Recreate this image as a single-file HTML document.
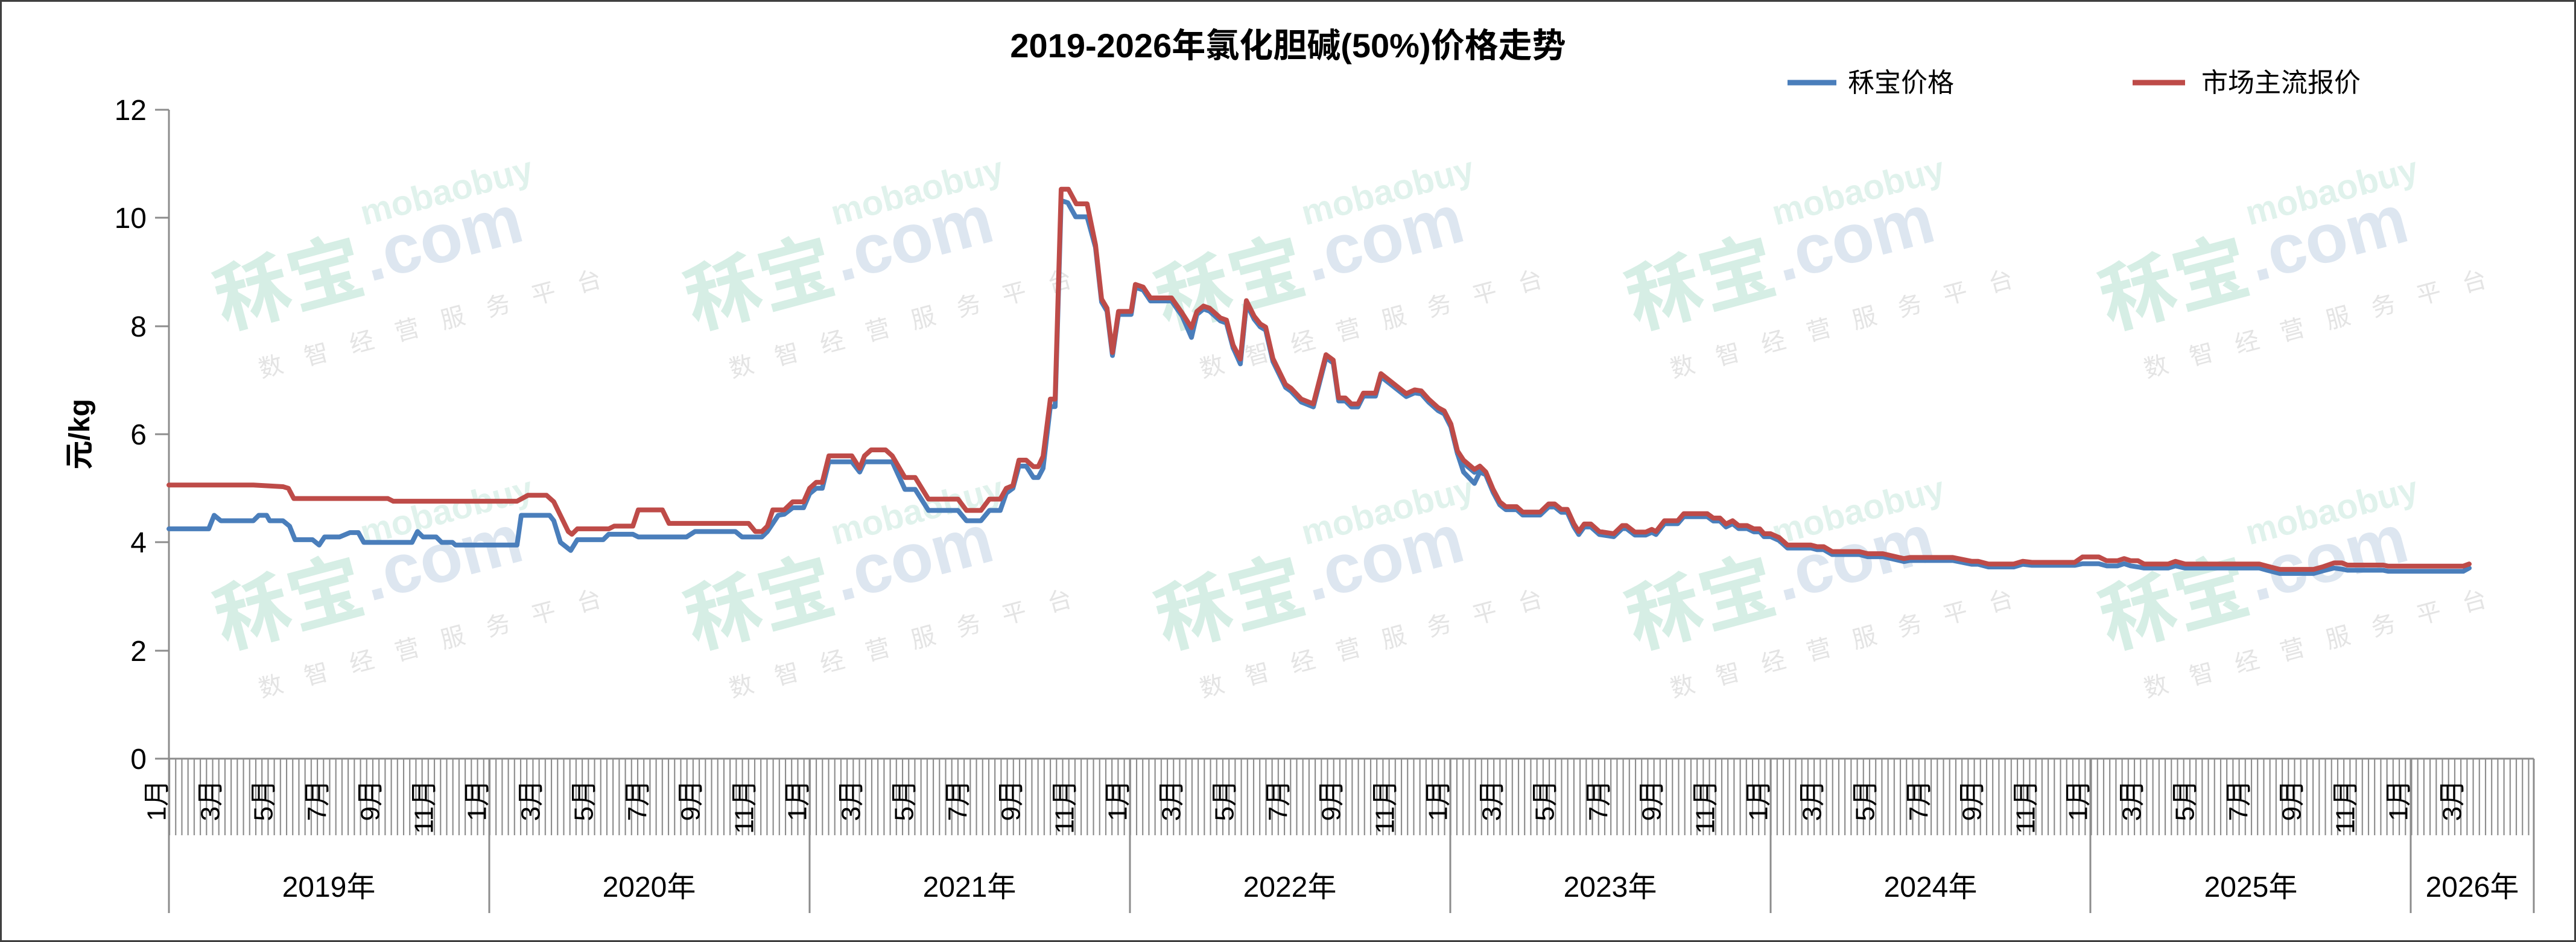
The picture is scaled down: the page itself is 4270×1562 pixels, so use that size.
<!DOCTYPE html>
<html><head><meta charset="utf-8">
<style>
html,body{margin:0;padding:0;background:#fff;}
svg{display:block;}
text{font-family:"Liberation Sans","Noto Sans CJK SC",sans-serif;}
</style></head>
<body>
<svg width="4270" height="1562" viewBox="0 0 4270 1562" xmlns="http://www.w3.org/2000/svg">
<defs>
<pattern id="wk" patternUnits="userSpaceOnUse" x="280" y="0" width="10.21" height="200">
<line x1="1" y1="0" x2="1" y2="200" stroke="#8a8a8a" stroke-width="2.2"/>
</pattern>
<g id="wm">
<text x="0" y="0" font-size="125" font-weight="bold" fill="#d6eee5">秝宝</text>
<text x="255" y="-12" font-size="115" font-weight="bold" fill="#dde6f0">.com</text>
<text x="270" y="-105" font-size="58" font-weight="bold" fill="#e0f2ec">mobaobuy</text>
<text x="40" y="95" font-size="40" fill="#e4e4e4" letter-spacing="38">数智经营服务平台</text>
</g>
</defs>
<rect x="1.5" y="1.5" width="4267" height="1559" fill="#fff" stroke="#404040" stroke-width="3"/>

<g transform="translate(370,545) rotate(-15)"><use href="#wm"/></g>
<g transform="translate(1150,545) rotate(-15)"><use href="#wm"/></g>
<g transform="translate(1930,545) rotate(-15)"><use href="#wm"/></g>
<g transform="translate(2710,545) rotate(-15)"><use href="#wm"/></g>
<g transform="translate(3495,545) rotate(-15)"><use href="#wm"/></g>
<g transform="translate(370,1075) rotate(-15)"><use href="#wm"/></g>
<g transform="translate(1150,1075) rotate(-15)"><use href="#wm"/></g>
<g transform="translate(1930,1075) rotate(-15)"><use href="#wm"/></g>
<g transform="translate(2710,1075) rotate(-15)"><use href="#wm"/></g>
<g transform="translate(3495,1075) rotate(-15)"><use href="#wm"/></g>

<text x="2135" y="95" font-size="56" font-weight="bold" text-anchor="middle" fill="#000">2019-2026年氯化胆碱(50%)价格走势</text>
<line x1="2963" y1="137" x2="3044" y2="137" stroke="#4a7ebb" stroke-width="9"/>
<text x="3063" y="152" font-size="44" fill="#000">秝宝价格</text>
<line x1="3535" y1="137" x2="3622" y2="137" stroke="#be4b48" stroke-width="9"/>
<text x="3649" y="152" font-size="44" fill="#000">市场主流报价</text>

<line x1="280" y1="182" x2="280" y2="1514" stroke="#8c8c8c" stroke-width="3"/>
<g stroke="#8c8c8c" stroke-width="3">
<line x1="257" y1="182" x2="280" y2="182"/><line x1="257" y1="361" x2="280" y2="361"/>
<line x1="257" y1="541" x2="280" y2="541"/><line x1="257" y1="720" x2="280" y2="720"/>
<line x1="257" y1="899" x2="280" y2="899"/><line x1="257" y1="1079" x2="280" y2="1079"/>
<line x1="257" y1="1258" x2="280" y2="1258"/>
</g>
<g font-size="48" text-anchor="end" fill="#000">
<text x="243" y="199">12</text><text x="243" y="378">10</text><text x="243" y="558">8</text>
<text x="243" y="737">6</text><text x="243" y="916">4</text><text x="243" y="1096">2</text><text x="243" y="1275">0</text>
</g>
<text transform="translate(148,720) rotate(-90)" font-size="48" font-weight="bold" text-anchor="middle" fill="#000">元/kg</text>

<rect x="280" y="1258" width="3920" height="127" fill="url(#wk)"/>
<line x1="280" y1="1258" x2="4200" y2="1258" stroke="#8c8c8c" stroke-width="3"/>
<g stroke="#8c8c8c" stroke-width="3">
<line x1="811" y1="1258" x2="811" y2="1514"/><line x1="1342" y1="1258" x2="1342" y2="1514"/>
<line x1="1873" y1="1258" x2="1873" y2="1514"/><line x1="2404" y1="1258" x2="2404" y2="1514"/>
<line x1="2935" y1="1258" x2="2935" y2="1514"/><line x1="3465" y1="1258" x2="3465" y2="1514"/>
<line x1="3996" y1="1258" x2="3996" y2="1514"/><line x1="4200" y1="1258" x2="4200" y2="1514"/>
</g>
<g font-size="44" fill="#000" text-anchor="end" dominant-baseline="central">
<text transform="translate(260,1293) rotate(-90)">1月</text><text transform="translate(349,1293) rotate(-90)">3月</text><text transform="translate(437,1293) rotate(-90)">5月</text><text transform="translate(526,1293) rotate(-90)">7月</text><text transform="translate(614,1293) rotate(-90)">9月</text><text transform="translate(703,1293) rotate(-90)">11月</text>
<text transform="translate(791,1293) rotate(-90)">1月</text><text transform="translate(880,1293) rotate(-90)">3月</text><text transform="translate(968,1293) rotate(-90)">5月</text><text transform="translate(1057,1293) rotate(-90)">7月</text><text transform="translate(1145,1293) rotate(-90)">9月</text><text transform="translate(1234,1293) rotate(-90)">11月</text>
<text transform="translate(1322,1293) rotate(-90)">1月</text><text transform="translate(1411,1293) rotate(-90)">3月</text><text transform="translate(1499,1293) rotate(-90)">5月</text><text transform="translate(1588,1293) rotate(-90)">7月</text><text transform="translate(1676,1293) rotate(-90)">9月</text><text transform="translate(1765,1293) rotate(-90)">11月</text>
<text transform="translate(1853,1293) rotate(-90)">1月</text><text transform="translate(1942,1293) rotate(-90)">3月</text><text transform="translate(2030,1293) rotate(-90)">5月</text><text transform="translate(2119,1293) rotate(-90)">7月</text><text transform="translate(2207,1293) rotate(-90)">9月</text><text transform="translate(2296,1293) rotate(-90)">11月</text>
<text transform="translate(2384,1293) rotate(-90)">1月</text><text transform="translate(2473,1293) rotate(-90)">3月</text><text transform="translate(2561,1293) rotate(-90)">5月</text><text transform="translate(2650,1293) rotate(-90)">7月</text><text transform="translate(2738,1293) rotate(-90)">9月</text><text transform="translate(2827,1293) rotate(-90)">11月</text>
<text transform="translate(2915,1293) rotate(-90)">1月</text><text transform="translate(3004,1293) rotate(-90)">3月</text><text transform="translate(3092,1293) rotate(-90)">5月</text><text transform="translate(3181,1293) rotate(-90)">7月</text><text transform="translate(3269,1293) rotate(-90)">9月</text><text transform="translate(3358,1293) rotate(-90)">11月</text>
<text transform="translate(3445,1293) rotate(-90)">1月</text><text transform="translate(3534,1293) rotate(-90)">3月</text><text transform="translate(3622,1293) rotate(-90)">5月</text><text transform="translate(3711,1293) rotate(-90)">7月</text><text transform="translate(3799,1293) rotate(-90)">9月</text><text transform="translate(3888,1293) rotate(-90)">11月</text>
<text transform="translate(3976,1293) rotate(-90)">1月</text><text transform="translate(4065,1293) rotate(-90)">3月</text>
</g>
<g font-size="48" fill="#000" text-anchor="middle">
<text x="545" y="1487">2019年</text><text x="1076" y="1487">2020年</text><text x="1607" y="1487">2021年</text>
<text x="2138" y="1487">2022年</text><text x="2669" y="1487">2023年</text><text x="3200" y="1487">2024年</text>
<text x="3731" y="1487">2025年</text><text x="4098" y="1487">2026年</text>
</g>

<g transform="translate(0 1258) scale(1 -89.67)" fill="none" stroke-linejoin="round" stroke-linecap="round">
<polyline vector-effect="non-scaling-stroke" stroke="#4a7ebb" stroke-width="8" points="280,4.25 346,4.25 355,4.5 366,4.4 420,4.4 429,4.5 442,4.5 447,4.4 469,4.4 480,4.3 489,4.05 518,4.05 529,3.95 538,4.1 563,4.1 580,4.18 594,4.18 603,4.0 683,4.0 692,4.2 701,4.1 723,4.1 732,4.0 750,4.0 755,3.95 857,3.95 864,4.5 911,4.5 918,4.4 929,4.0 946,3.85 957,4.05 1000,4.05 1009,4.15 1049,4.15 1058,4.1 1138,4.1 1152,4.2 1219,4.2 1230,4.1 1263,4.1 1272,4.2 1290,4.5 1300,4.52 1314,4.64 1332,4.64 1342,4.9 1353,5.0 1363,5.0 1374,5.49 1412,5.49 1425,5.3 1433,5.49 1479,5.49 1500,4.98 1517,4.98 1539,4.59 1588,4.59 1602,4.4 1626,4.4 1640,4.59 1658,4.59 1668,4.91 1679,5.0 1689,5.41 1701,5.41 1713,5.2 1721,5.2 1729,5.37 1741,6.51 1749,6.51 1759,10.32 1770,10.28 1783,10.02 1802,10.02 1816,9.45"/>
<polyline vector-effect="non-scaling-stroke" stroke="#4a7ebb" stroke-width="8" points="1942,8.47 1959,8.2 1975,7.79 1984,8.22"/>
<polyline vector-effect="non-scaling-stroke" stroke="#4a7ebb" stroke-width="8" points="2044,7.6 2056,7.3 2066,8.4"/>
<polyline vector-effect="non-scaling-stroke" stroke="#4a7ebb" stroke-width="8" points="2405,6.14 2416,5.64 2426,5.3 2444,5.09 2453,5.3 2463,5.25 2475,4.93"/>
<g transform="translate(0 -0.055)">
<polyline vector-effect="non-scaling-stroke" stroke="#4a7ebb" stroke-width="8" points="1816,9.5 1826,8.5 1835,8.33 1844,7.51 1854,8.27 1875,8.27 1882,8.77 1895,8.72 1907,8.52 1942,8.52 1959,8.25 1975,7.97 1984,8.27 1995,8.37 2005,8.33 2023,8.15 2033,8.11 2044,7.65 2056,7.39 2066,8.47 2079,8.18 2089,8.04 2098,7.98 2110,7.4 2131,6.92 2140,6.85 2157,6.65 2177,6.56 2198,7.47 2210,7.37 2219,6.67 2230,6.67 2240,6.56 2251,6.56 2260,6.76 2280,6.76 2289,7.12 2331,6.75 2345,6.82 2356,6.8 2368,6.65 2384,6.49 2394,6.43 2405,6.19 2416,5.69 2426,5.52 2444,5.35 2453,5.41 2463,5.3 2475,4.98 2486,4.75 2496,4.66 2514,4.66 2524,4.56 2553,4.56 2567,4.71 2577,4.71 2588,4.61 2598,4.61 2609,4.34 2617,4.2 2626,4.34 2637,4.34 2651,4.2 2675,4.16 2689,4.31 2696,4.31 2710,4.19 2728,4.19 2738,4.24 2745,4.2 2759,4.4 2781,4.4 2791,4.53 2830,4.53 2840,4.45 2851,4.45 2861,4.34 2872,4.4 2882,4.31 2896,4.31 2907,4.25 2917,4.25 2924,4.16 2935,4.16 2949,4.09 2963,3.95 3002,3.95 3012,3.92 3023,3.92 3037,3.83 3082,3.83 3096,3.79 3121,3.79 3156,3.7 3166,3.72 3237,3.72 3268,3.65 3279,3.65 3296,3.6 3338,3.6 3353,3.65 3368,3.63 3439,3.63 3452,3.66 3479,3.66 3492,3.62 3510,3.62 3521,3.66 3532,3.62 3544,3.6 3554,3.58 3594,3.58 3606,3.62 3622,3.58 3745,3.58 3758,3.54 3779,3.48 3835,3.48 3851,3.53 3869,3.58 3882,3.56 3891,3.54 3950,3.54 3959,3.52 4083,3.52 4093,3.58"/>
</g>
<polyline vector-effect="non-scaling-stroke" stroke="#be4b48" stroke-width="8" points="280,5.06 420,5.06 469,5.03 478,5.0 487,4.81 643,4.81 652,4.76 857,4.76 875,4.87 906,4.87 918,4.75 942,4.2 948,4.15 957,4.25 1009,4.25 1018,4.3 1049,4.3 1058,4.6 1098,4.6 1109,4.35 1241,4.35 1252,4.2 1263,4.2 1272,4.3 1281,4.6 1300,4.6 1314,4.75 1332,4.75 1342,5.0 1353,5.11 1363,5.11 1374,5.6 1412,5.6 1425,5.37 1433,5.6 1444,5.71 1468,5.71 1479,5.6 1500,5.2 1517,5.2 1539,4.8 1588,4.8 1602,4.59 1626,4.59 1640,4.8 1658,4.8 1668,5.0 1679,5.05 1689,5.52 1701,5.52 1713,5.4 1721,5.4 1729,5.59 1741,6.65 1749,6.65 1759,10.53 1771,10.53 1784,10.26 1802,10.26 1816,9.5 1826,8.5 1835,8.33 1844,7.51 1854,8.27 1875,8.27 1882,8.77 1895,8.72 1907,8.52 1942,8.52 1959,8.25 1975,7.97 1984,8.27 1995,8.37 2005,8.33 2023,8.15 2033,8.11 2044,7.65 2056,7.39 2066,8.47 2079,8.18 2089,8.04 2098,7.98 2110,7.4 2131,6.92 2140,6.85 2157,6.65 2177,6.56 2198,7.47 2210,7.37 2219,6.67 2230,6.67 2240,6.56 2251,6.56 2260,6.76 2280,6.76 2289,7.12 2331,6.75 2345,6.82 2356,6.8 2368,6.65 2384,6.49 2394,6.43 2405,6.19 2416,5.69 2426,5.52 2444,5.35 2453,5.41 2463,5.3 2475,4.98 2486,4.75 2496,4.66 2514,4.66 2524,4.56 2553,4.56 2567,4.71 2577,4.71 2588,4.61 2598,4.61 2609,4.34 2617,4.2 2626,4.34 2637,4.34 2651,4.2 2675,4.16 2689,4.31 2696,4.31 2710,4.19 2728,4.19 2738,4.24 2745,4.2 2759,4.4 2781,4.4 2791,4.53 2830,4.53 2840,4.45 2851,4.45 2861,4.34 2872,4.4 2882,4.31 2896,4.31 2907,4.25 2917,4.25 2924,4.16 2935,4.16 2949,4.09 2963,3.95 3002,3.95 3012,3.92 3023,3.92 3037,3.83 3082,3.83 3096,3.79 3121,3.79 3156,3.7 3166,3.72 3237,3.72 3268,3.65 3279,3.65 3296,3.6 3338,3.6 3353,3.65 3368,3.63 3439,3.63 3452,3.73 3479,3.73 3492,3.66 3510,3.66 3521,3.7 3532,3.66 3544,3.66 3554,3.6 3594,3.6 3606,3.65 3622,3.6 3745,3.6 3758,3.56 3779,3.5 3835,3.5 3851,3.55 3869,3.62 3882,3.62 3891,3.58 3950,3.58 3959,3.56 4083,3.56 4093,3.6"/>
</g>
</svg>
</body></html>
